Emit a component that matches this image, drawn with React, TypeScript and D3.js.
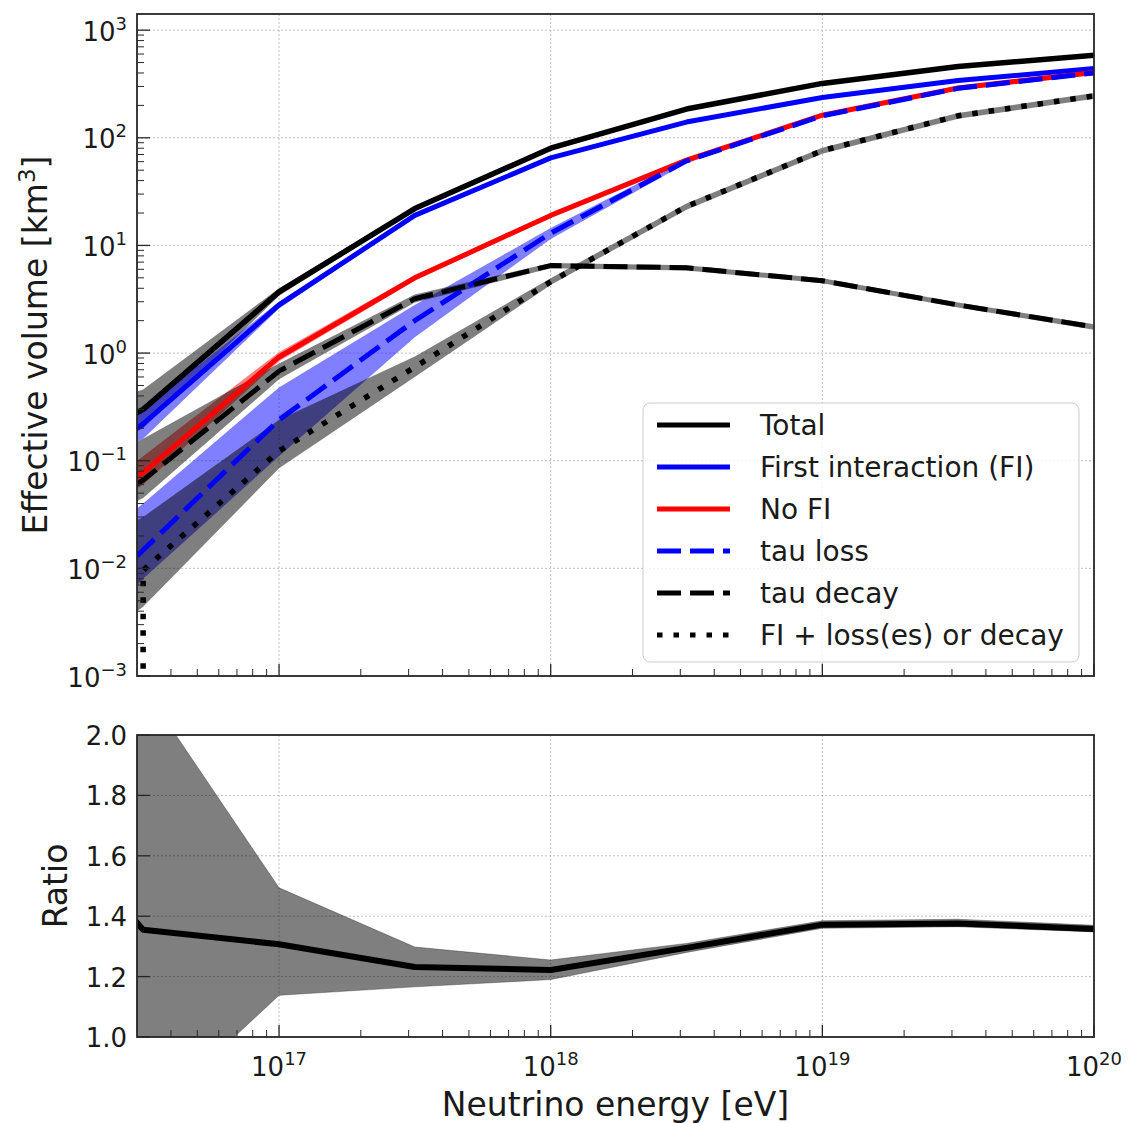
import React from "react";
import * as d3 from "d3";

// ---- data ----
const energies = [3e16, 3.16e16, 1e17, 3.16e17, 1e18, 3.16e18, 1e19, 3.16e19, 1e20];

const total = [0.28, 0.3, 3.7, 22, 80, 185, 320, 460, 585];
const totalLo = [0.19, 0.2, 3.4, 21, 77, 179, 311, 447, 570];
const totalHi = [0.44, 0.46, 4.0, 23, 83, 191, 329, 473, 600];

const firstInt = [0.2, 0.22, 2.8, 19, 65, 140, 237, 340, 440];
const firstIntLo = [0.15, 0.16, 2.6, 18.3, 63, 136, 231, 331, 429];
const firstIntHi = [0.28, 0.3, 3.0, 19.7, 67, 144, 243, 349, 451];

const noFI = [0.072, 0.077, 0.92, 5.0, 19, 62, 162, 290, 405];
const noFILo = [0.055, 0.06, 0.84, 4.7, 18.3, 60, 158, 283, 395];
const noFIHi = [0.1, 0.11, 1.02, 5.3, 19.7, 64, 166, 297, 415];

const tauLoss = [0.013, 0.0148, 0.24, 2.0, 13, 61, 160, 288, 400];
const tauLossLo = [0.007, 0.008, 0.11, 1.4, 11.5, 58, 155, 280, 390];
const tauLossHi = [0.036, 0.04, 0.48, 2.8, 14.5, 64, 165, 296, 410];

const tauDecay = [0.061, 0.066, 0.68, 3.2, 6.5, 6.2, 4.7, 2.8, 1.75];
const tauDecayLo = [0.042, 0.045, 0.57, 2.95, 6.15, 5.85, 4.45, 2.65, 1.65];
const tauDecayHi = [0.15, 0.16, 0.8, 3.5, 6.85, 6.55, 4.95, 2.95, 1.85];

const fiPlus = [0, 0.0096, 0.123, 0.74, 4.6, 23, 76, 160, 245];
const fiPlusLo = [0.004, 0.0044, 0.085, 0.6, 4.3, 21.5, 71, 150, 230];
const fiPlusHi = [0.028, 0.03, 0.24, 0.93, 4.95, 24.5, 81, 170, 260];

const ratio = [1.378, 1.355, 1.307, 1.232, 1.222, 1.295, 1.372, 1.376, 1.358];
const ratioLo = [0.7, 0.72, 1.138, 1.166, 1.19, 1.28, 1.36, 1.365, 1.348];
const ratioHi = [2.2, 2.16, 1.494, 1.298, 1.255, 1.31, 1.385, 1.39, 1.37];

const xMajor = [1e17, 1e18, 1e19, 1e20];
const yMajorExp = [-3, -2, -1, 0, 1, 2, 3];
const ratioTicks = [1.0, 1.2, 1.4, 1.6, 1.8, 2.0];

const legendItems = [
  { label: "Total", color: "#000000", dash: "" },
  { label: "First interaction (FI)", color: "#0000ff", dash: "" },
  { label: "No FI", color: "#ff0000", dash: "" },
  { label: "tau loss", color: "#0000ff", dash: "24,9" },
  { label: "tau decay", color: "#000000", dash: "24,9" },
  { label: "FI + loss(es) or decay", color: "#000000", dash: "5.5,11" },
];

// ---- layout ----
const W = 1128, H = 1123;
const L = 137, R = 1094, T1 = 14, B1 = 676, T2 = 735, B2 = 1037;
const FONT = "DejaVu Sans";
const TXT = "#1a1a1a";

const x = d3.scaleLog().domain([3e16, 1e20]).range([L, R]);
const y = d3.scaleLog().domain([1e-3, Math.pow(10, 3.15)]).range([B1, T1]);
const yr = d3.scaleLinear().domain([1, 2]).range([B2, T2]);
const yc = (v: number) => y(Math.max(v, 1e-300)); // non-positive values clipped like a log axis

const lineTop = d3.line<[number, number]>().x(d => x(d[0])).y(d => yc(d[1]));
const areaTop = d3.area<[number, number, number]>().x(d => x(d[0])).y0(d => yc(d[1])).y1(d => yc(d[2]));
const lineR = d3.line<[number, number]>().x(d => x(d[0])).y(d => yr(d[1]));
const areaR = d3.area<[number, number, number]>().x(d => x(d[0])).y0(d => yr(d[1])).y1(d => yr(d[2]));

const pts = (v: number[]) => energies.map((e, i) => [e, v[i]] as [number, number]);
const band = (lo: number[], hi: number[]) => energies.map((e, i) => [e, lo[i], hi[i]] as [number, number, number]);

const xMinor: number[] = [];
for (let e = 16; e <= 19; e++) for (let k = 2; k <= 9; k++) {
  const v = k * Math.pow(10, e);
  if (v > 3e16 && v <= 1e20) xMinor.push(v);
}
const yMinor: number[] = [];
for (let e = -3; e <= 2; e++) for (let k = 2; k <= 9; k++) yMinor.push(k * Math.pow(10, e));

const supStr = (e: number) => (e < 0 ? "\u2212" + Math.abs(e) : String(e));

function Pow({ px, py, e, anchor }: { px: number; py: number; e: number; anchor: string }) {
  return (
    <text x={px} y={py} textAnchor={anchor} fontSize={26} fontFamily={FONT} fill={TXT}>
      <tspan>10</tspan>
      <tspan dy={-11} fontSize={18}>{supStr(e)}</tspan>
    </text>
  );
}

export default function App() {
  const gridStyle = { stroke: "#b0b0b0", strokeWidth: 0.8, strokeDasharray: "2,2" };
  const spine = "#262626";

  const bands = [
    { d: band(totalLo, totalHi), c: "#000000" },
    { d: band(firstIntLo, firstIntHi), c: "#0000ff" },
    { d: band(noFILo, noFIHi), c: "#ff0000" },
    { d: band(tauLossLo, tauLossHi), c: "#0000ff" },
    { d: band(tauDecayLo, tauDecayHi), c: "#000000" },
    { d: band(fiPlusLo, fiPlusHi), c: "#000000" },
  ];
  const lines = [
    { d: pts(total), c: "#000000", dash: "", w: 5.5 },
    { d: pts(firstInt), c: "#0000ff", dash: "", w: 5 },
    { d: pts(noFI), c: "#ff0000", dash: "", w: 5 },
    { d: pts(tauLoss), c: "#0000ff", dash: "24,9", w: 5 },
    { d: pts(tauDecay), c: "#000000", dash: "24,9", w: 5 },
    { d: pts(fiPlus), c: "#000000", dash: "5.5,11", w: 5.5 },
  ];

  return (
    <svg width={W} height={H} style={{ position: "absolute", left: 0, top: 0, background: "#fff" }}>
      <defs>
        <clipPath id="clipTop"><rect x={L} y={T1} width={R - L} height={B1 - T1} /></clipPath>
        <clipPath id="clipBot"><rect x={L} y={T2} width={R - L} height={B2 - T2} /></clipPath>
      </defs>
      <rect x={0} y={0} width={W} height={H} fill="#fff" />

      {/* ---------- top panel ---------- */}
      <g>
        {xMajor.map(v => <line key={"gx" + v} x1={x(v)} x2={x(v)} y1={T1} y2={B1} style={gridStyle} />)}
        {yMajorExp.map(e => <line key={"gy" + e} x1={L} x2={R} y1={y(Math.pow(10, e))} y2={y(Math.pow(10, e))} style={gridStyle} />)}
      </g>
      <g clipPath="url(#clipTop)">
        {bands.map((b, i) => <path key={"b" + i} d={areaTop(b.d) || ""} fill={b.c} fillOpacity={0.5} stroke="none" />)}
        {lines.map((l, i) => (
          <path key={"l" + i} d={lineTop(l.d) || ""} fill="none" stroke={l.c} strokeWidth={l.w}
            strokeDasharray={l.dash || undefined} strokeLinejoin="round" strokeLinecap={l.dash ? "butt" : "square"} />
        ))}
      </g>
      {/* ticks top */}
      <g stroke={spine}>
        {xMajor.map(v => <line key={"tx" + v} x1={x(v)} x2={x(v)} y1={B1} y2={B1 - 12} strokeWidth={1.3} />)}
        {xMinor.map(v => <line key={"tmx" + v} x1={x(v)} x2={x(v)} y1={B1} y2={B1 - 7} strokeWidth={1} />)}
        {yMajorExp.map(e => <line key={"ty" + e} x1={L} x2={L + 13} y1={y(Math.pow(10, e))} y2={y(Math.pow(10, e))} strokeWidth={1.3} />)}
        {yMinor.map(v => <line key={"tmy" + v} x1={L} x2={L + 7} y1={y(v)} y2={y(v)} strokeWidth={1} />)}
      </g>
      <rect x={L} y={T1} width={R - L} height={B1 - T1} fill="none" stroke={spine} strokeWidth={1.8} />
      {yMajorExp.map(e => <Pow key={"yl" + e} px={127} py={y(Math.pow(10, e)) + 10.5} e={e} anchor="end" />)}
      <text transform={`translate(47,${(T1 + B1) / 2}) rotate(-90)`} textAnchor="middle" fontSize={33} fontFamily={FONT} fill={TXT}>
        Effective volume [km<tspan dy={-12} fontSize={23}>3</tspan><tspan dy={12}>]</tspan>
      </text>

      {/* legend */}
      <g>
        <rect x={643} y={403} width={436} height={259} rx={7} fill="#ffffff" fillOpacity={0.8} stroke="#cccccc" strokeWidth={1} />
        {legendItems.map((it, i) => {
          const ly = 425 + i * 42;
          return (
            <g key={"lg" + i}>
              <line x1={657} x2={730} y1={ly} y2={ly} stroke={it.color} strokeWidth={5}
                strokeDasharray={it.dash || undefined} strokeLinecap="butt" />
              <text x={760} y={ly + 10} fontSize={28} fontFamily={FONT} fill={TXT}>{it.label}</text>
            </g>
          );
        })}
      </g>

      {/* ---------- ratio panel ---------- */}
      <g>
        {xMajor.map(v => <line key={"rgx" + v} x1={x(v)} x2={x(v)} y1={T2} y2={B2} style={gridStyle} />)}
        {ratioTicks.map(v => <line key={"rgy" + v} x1={L} x2={R} y1={yr(v)} y2={yr(v)} style={gridStyle} />)}
      </g>
      <g clipPath="url(#clipBot)">
        <path d={areaR(band(ratioLo, ratioHi)) || ""} fill="#000000" fillOpacity={0.5} stroke="#000" strokeOpacity={0.3} strokeWidth={1} />
        <path d={lineR(pts(ratio)) || ""} fill="none" stroke="#000" strokeWidth={6} strokeLinejoin="round" strokeLinecap="square" />
      </g>
      <g stroke={spine}>
        {xMajor.map(v => <line key={"rtx" + v} x1={x(v)} x2={x(v)} y1={B2} y2={B2 - 12} strokeWidth={1.3} />)}
        {xMinor.map(v => <line key={"rtmx" + v} x1={x(v)} x2={x(v)} y1={B2} y2={B2 - 7} strokeWidth={1} />)}
        {ratioTicks.map(v => <line key={"rty" + v} x1={L} x2={L + 13} y1={yr(v)} y2={yr(v)} strokeWidth={1.3} />)}
      </g>
      <rect x={L} y={T2} width={R - L} height={B2 - T2} fill="none" stroke={spine} strokeWidth={1.8} />
      {ratioTicks.map(v => (
        <text key={"rl" + v} x={127} y={yr(v) + 10} textAnchor="end" fontSize={26} fontFamily={FONT} fill={TXT}>{v.toFixed(1)}</text>
      ))}
      {xMajor.map(v => <Pow key={"xl" + v} px={x(v)} py={B2 + 39} e={Math.round(Math.log10(v))} anchor="middle" />)}
      <text transform={`translate(67,${(T2 + B2) / 2}) rotate(-90)`} textAnchor="middle" fontSize={33} fontFamily={FONT} fill={TXT}>Ratio</text>
      <text x={(L + R) / 2} y={1116} textAnchor="middle" fontSize={33} fontFamily={FONT} fill={TXT}>Neutrino energy [eV]</text>
    </svg>
  );
}
